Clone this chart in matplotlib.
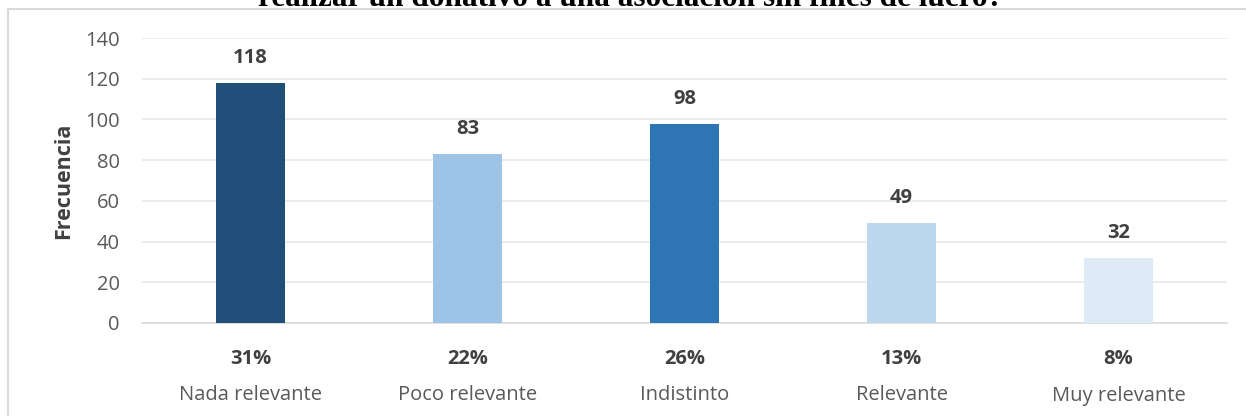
import matplotlib.pyplot as plt
from matplotlib.patches import Rectangle
from matplotlib.transforms import blended_transform_factory

categories = ['Nada relevante', 'Poco relevante', 'Indistinto', 'Relevante', 'Muy relevante']
frecuencia = [118, 83, 98, 49, 32]
porcentajes = ['31%', '22%', '26%', '13%', '8%']
colores = ['#1F4E79', '#9DC3E6', '#2E75B6', '#BDD7EE', '#DEEBF7']
titulo = 'realizar un donativo a una asociación sin fines de lucro?'

plt.rcParams['font.family'] = ['Open Sans', 'DejaVu Sans']

fig = plt.figure(figsize=(12.46, 4.16), dpi=100)
ax = fig.add_axes([142 / 1246, 1 - 323 / 416, (1227 - 142) / 1246, (323 - 38) / 416])

x = range(len(categories))
ax.bar(x, frecuencia, width=0.32, color=colores, zorder=3)

ax.set_xlim(-0.5, len(categories) - 0.5)
ax.set_ylim(0, 140)
ax.set_yticks(range(0, 141, 20))
ax.tick_params(axis='y', length=0, labelsize=14.5, labelcolor='#595959', pad=16)
ax.tick_params(axis='x', length=0, labelsize=14.5, labelcolor='#595959', pad=45)
ax.set_xticks(list(x))
ax.set_xticklabels(categories)
ax.grid(axis='y', color='#E7E7E7', linewidth=1.2, zorder=0)

for s in ['top', 'right', 'left']:
    ax.spines[s].set_visible(False)
ax.spines['bottom'].set_color('#D9D9D9')
ax.spines['bottom'].set_linewidth(1.2)

ax.set_ylabel('Frecuencia', fontsize=15.5, fontweight='bold', color='#404040', labelpad=8)

for i, v in enumerate(frecuencia):
    ax.annotate(str(v), (i, v), xytext=(0, 18), textcoords='offset points',
                ha='center', va='center', fontsize=14.5, fontweight='bold', color='#404040')

trans = blended_transform_factory(ax.transData, ax.transAxes)
for i, p in enumerate(porcentajes):
    ax.annotate(p, (i, 0), xycoords=trans, xytext=(0, -26), textcoords='offset points',
                ha='center', va='center', fontsize=14.5, fontweight='bold', color='#404040')

# marco del grafico
fig.patches.append(Rectangle((8 / 1246, -0.1), 1.2, 1 - 9 / 416 + 0.1, transform=fig.transFigure,
                             fill=False, edgecolor='#D9D9D9', linewidth=1.5))

fig.text(631 / 1246, 1 - 6 / 416, titulo, ha='center', va='baseline',
         family='Liberation Serif', fontweight='bold', fontsize=22.5, color='black')

fig.savefig('out.png', dpi=100)
